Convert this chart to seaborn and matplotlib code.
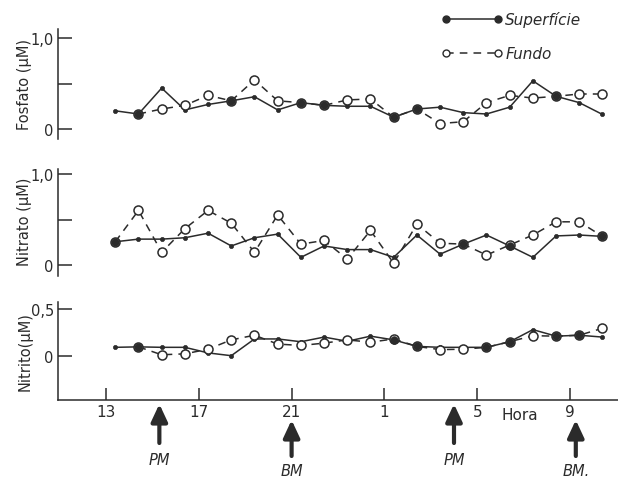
import numpy as np
import pandas as pd
import matplotlib
matplotlib.use("Agg")
import matplotlib.pyplot as plt
import matplotlib.transforms as mtransforms
from matplotlib.lines import Line2D
import seaborn as sns

nan = np.nan

# ---------------- data ----------------
hours = [13.4, 14.4, 15.4, 16.4, 17.4, 18.4, 19.4, 20.4, 21.4, 22.4, 23.4,
         24.4, 25.4, 26.4, 27.4, 28.4, 29.4, 30.4, 31.4, 32.4, 33.4, 34.4]
tick_hours = [13, 17, 21, 25, 29, 33]
tick_labels = ["13", "17", "21", "1", "5", "9"]

fosfato_sup = [0.20, 0.165, 0.45, 0.21, 0.27, 0.31, 0.355, 0.21, 0.29, 0.26, 0.25,
               0.25, 0.13, 0.22, 0.24, 0.18, 0.165, 0.24, 0.53, 0.36, 0.29, 0.16]
fosfato_fun = [nan, 0.165, 0.22, 0.26, 0.37, 0.31, 0.54, 0.31, 0.29, 0.26, 0.32,
               0.33, 0.13, 0.22, 0.06, 0.08, 0.29, 0.37, 0.34, 0.36, 0.385, 0.385]

nitrato_sup = [0.256, 0.285, 0.285, 0.30, 0.35, 0.21, 0.30, 0.34, 0.085, 0.21, 0.17,
               0.17, 0.085, 0.33, 0.12, 0.23, 0.33, 0.21, 0.085, 0.32, 0.33, 0.315]
nitrato_fun = [0.256, 0.60, 0.14, 0.40, 0.60, 0.46, 0.14, 0.55, 0.23, 0.27, 0.066,
               0.38, 0.02, 0.45, 0.24, 0.23, 0.11, 0.22, 0.33, 0.475, 0.475, 0.315]

nitrito_sup = [0.09, 0.095, 0.09, 0.09, 0.03, 0.0, 0.18, 0.18, 0.15, 0.20, 0.155,
               0.21, 0.17, 0.10, 0.09, 0.09, 0.09, 0.15, 0.28, 0.21, 0.22, 0.20]
nitrito_fun = [nan, 0.095, 0.01, 0.02, 0.07, 0.17, 0.22, 0.125, 0.11, 0.135, 0.17,
               0.145, 0.18, 0.10, 0.065, 0.07, 0.09, 0.15, 0.215, 0.21, 0.22, 0.295]

panel_names = ["Fosfato (µM)", "Nitrato (µM)", "Nitrito(µM)"]
series_names = ["Superfície", "Fundo"]

event_hours = [15.3, 21.0, 28.0, 33.25]
event_labels = ["PM", "BM", "PM", "BM."]

# ---------------- style ----------------
sns.set_theme(style="white")
plt.rcParams["font.family"] = ["DejaVu Sans"]
INK = "#2b2b2b"
plt.rcParams.update({
    "axes.edgecolor": INK, "text.color": INK, "xtick.color": INK,
    "ytick.color": INK, "axes.labelcolor": INK, "axes.linewidth": 1.1,
})

W, H = 618, 481
fig = plt.figure(figsize=(W / 100, H / 100), dpi=100)
fig.patch.set_facecolor("white")

def px_axes(left, top, right, bottom):
    return fig.add_axes([left / W, 1 - bottom / H, (right - left) / W, (bottom - top) / H])

XLIM = (13 - 48 / 23.2, 13 + 512 / 23.2)

panels = [
    dict(rect=(58, 30, 618, 140), ylim=(-0.11, 1.10), yt=[0, 0.5, 1.0], ytl=["0", "", "1,0"],
         sup=fosfato_sup, fun=fosfato_fun, name=panel_names[0], ly=85),
    dict(rect=(58, 170, 618, 277), ylim=(-0.12, 1.055), yt=[0, 0.5, 1.0], ytl=["0", "", "1,0"],
         sup=nitrato_sup, fun=nitrato_fun, name=panel_names[1], ly=222),
    dict(rect=(58, 303, 618, 401), ylim=(-0.476, 0.577), yt=[0, 0.5], ytl=["0", "0,5"],
         sup=nitrito_sup, fun=nitrito_fun, name=panel_names[2], ly=352),
]

axes = []
for i, p in enumerate(panels):
    ax = px_axes(*p["rect"])
    ax.set_facecolor("none")
    df = pd.DataFrame({"hora": hours, "sup": p["sup"], "fun": p["fun"]})

    sns.lineplot(data=df, x="hora", y="sup", ax=ax, color=INK, lw=1.1,
                 marker="o", markersize=3.0, markeredgecolor=INK,
                 markeredgewidth=0.5, zorder=3)
    dfun = df.dropna(subset=["fun"])
    sns.lineplot(data=dfun, x="hora", y="fun", ax=ax, color=INK, lw=1.1,
                 linestyle=(0, (5, 4)), marker="o", markersize=6.5,
                 markerfacecolor="white", markeredgecolor=INK,
                 markeredgewidth=1.1, zorder=4)
    same = df[np.isclose(df["sup"], df["fun"], atol=0.012)]
    sns.scatterplot(data=same, x="hora", y="sup", ax=ax, color=INK, s=30,
                    edgecolor=INK, linewidth=0.5, zorder=5, legend=False)

    ax.set_xlim(*XLIM)
    ax.set_ylim(*p["ylim"])
    ax.set_yticks(p["yt"])
    ax.set_yticklabels(p["ytl"], fontsize=10.5)
    ax.tick_params(axis="y", direction="in", length=10, width=1.1, pad=3, left=True)
    ax.set_ylabel("")
    ax.set_xlabel("")
    for s in ("top", "right"):
        ax.spines[s].set_visible(False)
    if i < 2:
        ax.spines["bottom"].set_visible(False)
        ax.set_xticks([])
    else:
        ax.set_xticks(tick_hours)
        ax.set_xticklabels(tick_labels, fontsize=11)
        ax.tick_params(axis="x", direction="in", length=9, width=1.1, pad=3, bottom=True)
    fig.text(25 / W, 1 - p["ly"] / H, p["name"], rotation=90, ha="center", va="center",
             fontsize=10.5)
    axes.append(ax)

bax = axes[2]
fig.text(520 / W, 1 - 416 / H, "Hora", ha="center", va="center", fontsize=11)

# event arrows
trans = mtransforms.blended_transform_factory(bax.transData, fig.transFigure)
for xh, lab in zip(event_hours, event_labels):
    if lab.startswith("PM"):
        tip, tail, ty = 405, 444, 461
    else:
        tip, tail, ty = 421, 457, 472
    bax.annotate("", xy=(xh, 1 - tip / H), xytext=(xh, 1 - tail / H),
                 xycoords=trans, textcoords=trans, annotation_clip=False,
                 arrowprops=dict(arrowstyle="-|>,head_length=0.75,head_width=0.35",
                                 lw=3.0, color=INK, mutation_scale=14,
                                 shrinkA=0, shrinkB=0))
    bax.text(xh, 1 - ty / H, lab, transform=trans, ha="center", va="center",
             fontsize=10.5, style="italic")

# legend
handles = [
    Line2D([], [], color=INK, lw=1.1, marker="o", markersize=5, markerfacecolor=INK,
           markeredgecolor=INK),
    Line2D([], [], color=INK, lw=1.1, linestyle=(0, (5, 4)), marker="o", markersize=5,
           markerfacecolor="white", markeredgecolor=INK),
]
fig.legend(handles, series_names, loc="upper left", bbox_to_anchor=(441 / W, 1 - 12 / H),
           frameon=False, numpoints=2, handlelength=4.0, handletextpad=0.2,
           labelspacing=1.25, borderpad=0, borderaxespad=0,
           prop=dict(size=11, style="italic"))

fig.savefig("out.png", dpi=100, facecolor="white")
